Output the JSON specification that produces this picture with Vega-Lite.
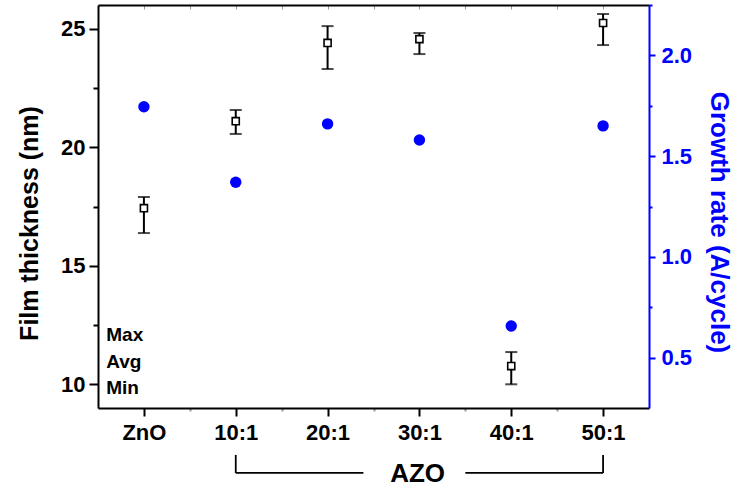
{
  "$schema": "https://vega.github.io/schema/vega-lite/v6.json",
  "width": 551,
  "height": 403,
  "autosize": {"type": "none"},
  "padding": {"left": 98, "top": 5, "right": 90, "bottom": 81},
  "background": "white",
  "config": {
    "view": {"stroke": null},
    "font": "Liberation Sans",
    "axis": {"labelFont": "Liberation Sans", "titleFont": "Liberation Sans", "grid": false}
  },
  "datasets": {
    "films": [
      {"idx": 0, "sample": "ZnO", "min": 16.38, "avg": 17.43, "max": 17.9, "rate": 1.745},
      {"idx": 1, "sample": "10:1", "min": 20.56, "avg": 21.1, "max": 21.57, "rate": 1.37},
      {"idx": 2, "sample": "20:1", "min": 23.3, "avg": 24.4, "max": 25.11, "rate": 1.66},
      {"idx": 3, "sample": "30:1", "min": 23.93, "avg": 24.56, "max": 24.82, "rate": 1.58},
      {"idx": 4, "sample": "40:1", "min": 10.0, "avg": 10.77, "max": 11.36, "rate": 0.657},
      {"idx": 5, "sample": "50:1", "min": 24.31, "avg": 25.24, "max": 25.62, "rate": 1.65}
    ],
    "keyText": [
      {"label": "Max", "x": -0.41, "y": 12.08},
      {"label": "Avg", "x": -0.41, "y": 10.94},
      {"label": "Min", "x": -0.41, "y": 9.84}
    ],
    "bracket": [
      {"x": 1, "y": 7.02, "x2": 1, "y2": 6.26},
      {"x": 1, "y": 6.26, "x2": 2.39, "y2": 6.26},
      {"x": 3.5, "y": 6.26, "x2": 5, "y2": 6.26},
      {"x": 5, "y": 6.26, "x2": 5, "y2": 7.02}
    ],
    "groupLabel": [{"label": "AZO", "x": 2.98, "y": 6.22}]
  },
  "layer": [
    {
      "layer": [
        {
          "data": {"name": "films"},
          "mark": {"type": "rule", "color": "black", "strokeWidth": 2},
          "encoding": {
            "x": {
              "field": "idx", "type": "quantitative",
              "scale": {"domain": [-0.5, 5.5], "nice": false, "zero": false},
              "axis": {
                "orient": "bottom", "title": null,
                "values": [0, 0.5, 1, 1.5, 2, 2.5, 3, 3.5, 4, 4.5, 5],
                "labelExpr": "datum.value % 1 === 0 ? ['ZnO','10:1','20:1','30:1','40:1','50:1'][datum.value] : ''",
                "labelFontSize": 22, "labelFontWeight": "bold", "labelColor": "black",
                "labelPadding": 6, "labelFlush": false, "labelOverlap": false,
                "domainColor": "black", "domainWidth": 2,
                "tickColor": {"condition": {"test": "datum.value % 1 === 0", "value": "black"}, "value": "#999999"},
                "tickWidth": 2,
                "tickSize": {"condition": {"test": "datum.value % 1 === 0", "value": 8}, "value": 3}
              }
            },
            "y": {
              "field": "min", "type": "quantitative",
              "scale": {"domain": [9, 26], "nice": false, "zero": false},
              "axis": {
                "orient": "left", "title": "Film thickness (nm)",
                "values": [10, 12.5, 15, 17.5, 20, 22.5, 25],
                "labelExpr": "datum.value % 5 === 0 ? format(datum.value, 'd') : ''",
                "labelFontSize": 22, "labelFontWeight": "bold", "labelColor": "black",
                "labelPadding": 4,
                "titleFontSize": 25, "titleFontWeight": "bold", "titleColor": "black",
                "titlePadding": 18, "titleY": 218,
                "domainColor": "black", "domainWidth": 2,
                "tickColor": "black", "tickWidth": 2,
                "tickSize": {"condition": {"test": "datum.value % 5 === 0", "value": 9}, "value": 5}
              }
            },
            "y2": {"field": "max"}
          }
        },
        {
          "data": {"name": "films"},
          "mark": {"type": "tick", "orient": "horizontal", "color": "black", "size": 12, "thickness": 2},
          "encoding": {
            "x": {"field": "idx", "type": "quantitative", "scale": {"domain": [-0.5, 5.5], "nice": false, "zero": false}},
            "y": {"field": "max", "type": "quantitative", "scale": {"domain": [9, 26], "nice": false, "zero": false}}
          }
        },
        {
          "data": {"name": "films"},
          "mark": {"type": "tick", "orient": "horizontal", "color": "black", "size": 12, "thickness": 2},
          "encoding": {
            "x": {"field": "idx", "type": "quantitative", "scale": {"domain": [-0.5, 5.5], "nice": false, "zero": false}},
            "y": {"field": "min", "type": "quantitative", "scale": {"domain": [9, 26], "nice": false, "zero": false}}
          }
        },
        {
          "data": {"name": "films"},
          "mark": {"type": "point", "shape": "square", "filled": true, "fill": "white", "stroke": "black", "strokeWidth": 1.6, "size": 50, "opacity": 1},
          "encoding": {
            "x": {"field": "idx", "type": "quantitative", "scale": {"domain": [-0.5, 5.5], "nice": false, "zero": false}},
            "y": {"field": "avg", "type": "quantitative", "scale": {"domain": [9, 26], "nice": false, "zero": false}}
          }
        },
        {
          "data": {"name": "keyText"},
          "mark": {"type": "text", "align": "left", "baseline": "middle", "fontSize": 19, "fontWeight": "bold", "color": "black"},
          "encoding": {
            "x": {"field": "x", "type": "quantitative", "scale": {"domain": [-0.5, 5.5], "nice": false, "zero": false}},
            "y": {"field": "y", "type": "quantitative", "scale": {"domain": [9, 26], "nice": false, "zero": false}},
            "text": {"field": "label"}
          }
        },
        {
          "data": {"name": "bracket"},
          "mark": {"type": "rule", "color": "black", "strokeWidth": 1.8, "clip": false},
          "encoding": {
            "x": {"field": "x", "type": "quantitative", "scale": {"domain": [-0.5, 5.5], "nice": false, "zero": false}},
            "y": {"field": "y", "type": "quantitative", "scale": {"domain": [9, 26], "nice": false, "zero": false}},
            "x2": {"field": "x2"},
            "y2": {"field": "y2"}
          }
        },
        {
          "data": {"name": "groupLabel"},
          "mark": {"type": "text", "align": "center", "baseline": "middle", "fontSize": 26, "fontWeight": "bold", "color": "black", "clip": false},
          "encoding": {
            "x": {"field": "x", "type": "quantitative", "scale": {"domain": [-0.5, 5.5], "nice": false, "zero": false}},
            "y": {"field": "y", "type": "quantitative", "scale": {"domain": [9, 26], "nice": false, "zero": false}},
            "text": {"field": "label"}
          }
        }
      ]
    },
    {
      "data": {"name": "films"},
      "mark": {"type": "point", "shape": "circle", "filled": true, "color": "#0000ff", "size": 130, "opacity": 1},
      "encoding": {
        "x": {
          "field": "idx", "type": "quantitative",
          "scale": {"domain": [-0.5, 5.5], "nice": false, "zero": false},
          "axis": {
            "orient": "top", "title": null, "labels": false,
            "values": [0, 0.5, 1, 1.5, 2, 2.5, 3, 3.5, 4, 4.5, 5],
            "domainColor": "black", "domainWidth": 2,
            "tickColor": "#999999", "tickWidth": 1, "tickSize": -4
          }
        },
        "y": {
          "field": "rate", "type": "quantitative",
          "scale": {"domain": [0.25, 2.25], "nice": false, "zero": false},
          "axis": {
            "orient": "right", "title": "Growth rate (A/cycle)",
            "values": [0.5, 0.75, 1, 1.25, 1.5, 1.75, 2, 2.25],
            "labelExpr": "datum.value % 0.5 === 0 ? format(datum.value, '.1f') : ''",
            "labelFontSize": 22, "labelFontWeight": "bold", "labelColor": "#0000ff",
            "labelPadding": 6,
            "titleFontSize": 26, "titleFontWeight": "bold", "titleColor": "#0000ff",
            "titlePadding": 14, "titleY": 217,
            "domainColor": "#0000ff", "domainWidth": 2,
            "tickColor": "#0000ff", "tickWidth": 2,
            "tickSize": {"condition": {"test": "datum.value % 0.5 === 0", "value": 6}, "value": 3}
          }
        }
      }
    }
  ],
  "resolve": {"scale": {"y": "independent"}, "axis": {"x": "independent"}}
}
